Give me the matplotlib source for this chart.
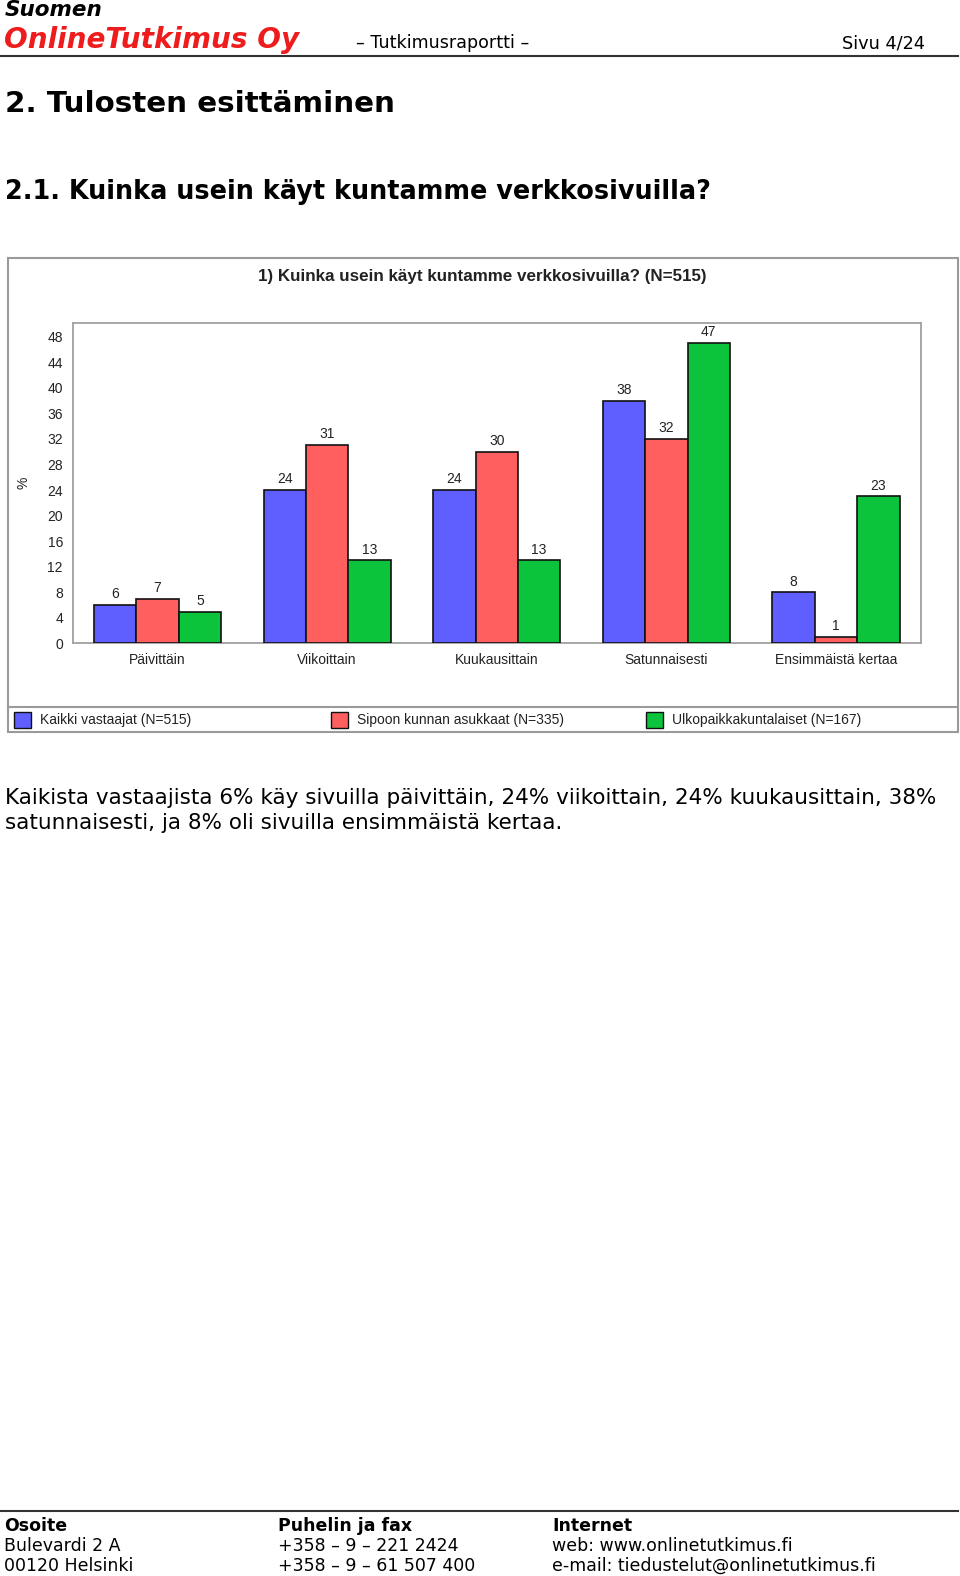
import numpy as np
import matplotlib
matplotlib.use("Agg")
import matplotlib.pyplot as plt
from matplotlib.patches import Rectangle
from matplotlib.lines import Line2D

W, H = 960, 1576

# data
categories = ["Päivittäin", "Viikoittain", "Kuukausittain", "Satunnaisesti", "Ensimmäistä kertaa"]
kaikki = [6, 24, 24, 38, 8]
sipoo = [7, 31, 30, 32, 1]
ulko = [5, 13, 13, 47, 23]
series_names = ["Kaikki vastaajat (N=515)", "Sipoon kunnan asukkaat (N=335)", "Ulkopaikkakuntalaiset (N=167)"]
colors = ["#5f5fff", "#ff5f5f", "#0cc43c"]
yticks = list(range(0, 49, 4))

fig = plt.figure(figsize=(W / 100, H / 100), dpi=100)


def fx(x):
    return x / W


def fy(y):
    return 1 - y / H


def txt(x, y, s, **kw):
    kw.setdefault("va", "center")
    fig.text(fx(x), fy(y), s, **kw)


# ylätunniste
txt(5, 10, "Suomen", fontsize=15.5, fontweight="bold", style="italic", family="DejaVu Sans")
txt(4, 40, "OnlineTutkimus Oy", fontsize=20.1, fontweight="bold", style="italic",
    color="#ee1c1c", family="DejaVu Sans")
txt(356, 43, "– Tutkimusraportti –", fontsize=12.6, family="DejaVu Sans")
txt(842, 43, "Sivu 4/24", fontsize=12.8, family="DejaVu Sans")
fig.add_artist(Line2D([0, fx(958)], [fy(55.5), fy(55.5)], color="#333333", lw=1.5))

# otsikot
txt(5, 104, "2. Tulosten esittäminen", fontsize=21.2, fontweight="bold", family="DejaVu Sans")
txt(5, 192, "2.1. Kuinka usein käyt kuntamme verkkosivuilla?", fontsize=18.4,
    fontweight="bold", family="DejaVu Sans")

# kaavion kehys
fig.add_artist(Rectangle((fx(7.5), fy(732)), fx(958) - fx(7.5), fy(258) - fy(732),
                         fill=False, ec="#9a9a9a", lw=1.5))
fig.add_artist(Line2D([fx(7.5), fx(958)], [fy(707), fy(707)], color="#9a9a9a", lw=1.5))
txt(482, 276, "1) Kuinka usein käyt kuntamme verkkosivuilla? (N=515)", ha="center",
    fontsize=12.25, fontweight="bold", family="Liberation Sans", color="#222222")

# kaavio
left, right, top, bottom = 72.7, 920.7, 322.5, 643.5
ax = fig.add_axes([fx(left), fy(bottom), fx(right) - fx(left), fy(top) - fy(bottom)])
x = np.arange(len(categories))
bw = 0.25
for i, (vals, c) in enumerate(zip([kaikki, sipoo, ulko], colors)):
    pos = x + (i - 1) * bw
    ax.bar(pos, vals, width=bw, color=c, edgecolor="#111111", linewidth=1.2, zorder=3)
    for xp, v in zip(pos, vals):
        ax.text(xp, v + 0.6, str(v), ha="center", va="bottom", fontsize=10,
                family="Liberation Sans", color="#222222")
ax.set_xlim(-0.5, len(categories) - 0.5)
ax.set_ylim(0, 50.2)
ax.set_yticks(yticks)
ax.set_xticks(x)
ax.set_xticklabels(categories)
ax.tick_params(length=0, labelsize=10, colors="#222222", pad=7)
for lab in ax.get_xticklabels() + ax.get_yticklabels():
    lab.set_family("Liberation Sans")
for sp in ax.spines.values():
    sp.set_color("#a0a0a0")
    sp.set_linewidth(1.3)
txt(24, 483, "%", rotation=90, ha="center", fontsize=10, family="Liberation Sans", color="#222222")

# selite
leg_x = [14, 331, 646]
for lx, name, c in zip(leg_x, series_names, colors):
    fig.add_artist(Rectangle((fx(lx), fy(728)), fx(17), 16 / H, fc=c, ec="#111111", lw=1))
    txt(lx + 26, 720, name, fontsize=10, family="Liberation Sans", color="#222222")

# teksti
txt(5, 798, "Kaikista vastaajista 6% käy sivuilla päivittäin, 24% viikoittain, 24% kuukausittain, 38%",
    fontsize=15.5, family="DejaVu Sans")
txt(5, 823, "satunnaisesti, ja 8% oli sivuilla ensimmäistä kertaa.", fontsize=15.5, family="DejaVu Sans")

# alatunniste
fig.add_artist(Line2D([0, fx(958)], [fy(1511), fy(1511)], color="#333333", lw=1.5))
cols = [4, 278, 552]
foot = [["Osoite", "Bulevardi 2 A", "00120 Helsinki"],
        ["Puhelin ja fax", "+358 – 9 – 221 2424", "+358 – 9 – 61 507 400"],
        ["Internet", "web: www.onlinetutkimus.fi", "e-mail: tiedustelut@onlinetutkimus.fi"]]
for cx, rows in zip(cols, foot):
    for j, (ry, s) in enumerate(zip([1526, 1546, 1566], rows)):
        txt(cx, ry, s, fontsize=12.5, family="DejaVu Sans", fontweight="bold" if j == 0 else "normal")

fig.savefig("out.png", dpi=100)
